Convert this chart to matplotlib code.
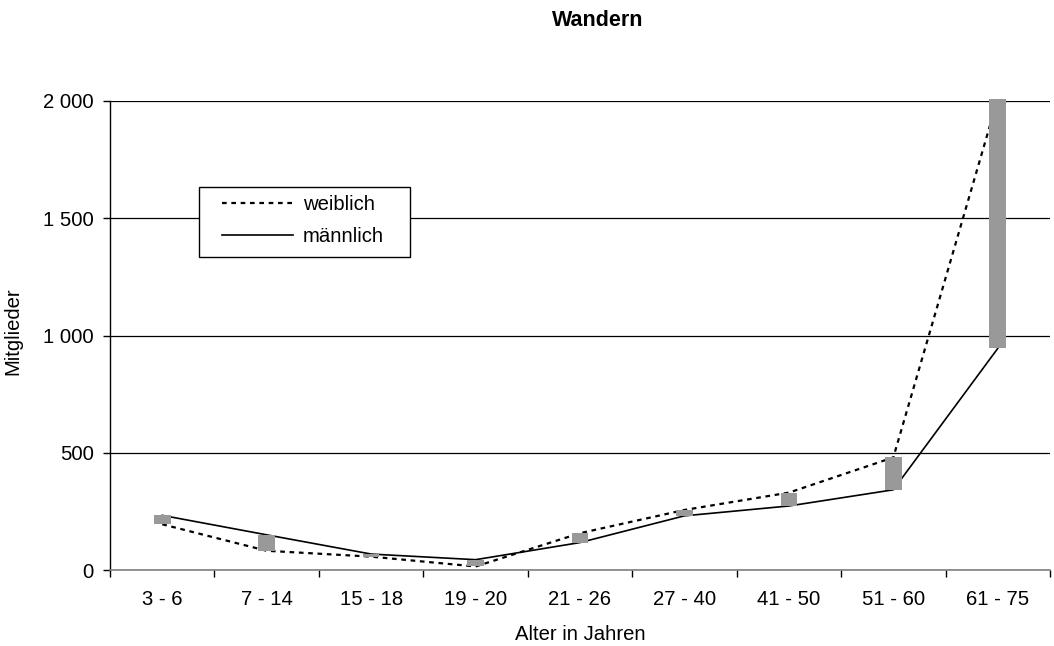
import matplotlib
matplotlib.use("Agg")
import matplotlib.pyplot as plt
from matplotlib.ticker import FuncFormatter, FixedLocator
from matplotlib.patches import Rectangle
import numpy as np

plt.rcParams['font.family'] = ['Liberation Sans', 'DejaVu Sans']

categories = ["3 - 6", "7 - 14", "15 - 18", "19 - 20", "21 - 26", "27 - 40", "41 - 50", "51 - 60", "61 - 75"]
weiblich = [195, 82, 57, 15, 157, 256, 330, 480, 2010]
maennlich = [233, 150, 68, 44, 117, 231, 273, 342, 945]
title = "Wandern"
xlabel = "Alter in Jahren"
ylabel = "Mitglieder"

FS = 14.6
W, H = 1054, 646

fig = plt.figure(figsize=(W/100, H/100), dpi=100)
ax = fig.add_axes([110/W, 1-570/H, 940/W, 469/H])

x = np.arange(len(categories))
ax.plot(x, weiblich, color='black', lw=1.6, linestyle=(0, (2.1, 2.1)), label='weiblich', zorder=3)
ax.plot(x, maennlich, color='black', lw=1.2, linestyle='-', label='männlich', zorder=3)

lo = np.minimum(weiblich, maennlich)
hi = np.maximum(weiblich, maennlich)
ax.bar(x, hi - lo, bottom=lo, width=0.16, color='#999999', zorder=4, clip_on=False)

ax.set_xlim(-0.5, len(categories) - 0.5)
ax.set_ylim(0, 2000)
ax.set_yticks([0, 500, 1000, 1500, 2000])
ax.yaxis.set_major_formatter(FuncFormatter(lambda v, p: f"{int(v):,}".replace(",", " ")))
ax.set_xticks(x)
ax.set_xticklabels(categories)
ax.xaxis.set_minor_locator(FixedLocator(np.arange(-0.5, len(categories), 1.0)))
ax.tick_params(axis='x', which='major', length=0, pad=14.5, labelsize=FS)
ax.tick_params(axis='x', which='minor', length=4.8, width=1, color='black', direction='out')
ax.tick_params(axis='y', length=4.8, width=1, direction='out', labelsize=FS, pad=7)

ax.grid(axis='y', color='black', lw=0.9, zorder=1)
ax.set_axisbelow(True)
for s in ['top', 'right']:
    ax.spines[s].set_visible(False)
ax.spines['left'].set_color('black')
ax.spines['bottom'].set_color('#808080')
ax.spines['left'].set_linewidth(1)
ax.spines['bottom'].set_linewidth(1.2)

# legend box
box = Rectangle((198.5/W, 1-257.5/H), 211.5/W, 70/H, transform=fig.transFigure,
                facecolor='white', edgecolor='black', lw=1, zorder=9)
ax.add_patch(box)
box.set_clip_on(False)
leg = ax.legend(loc='center left', bbox_to_anchor=(221.5/W, 1-220.5/H), bbox_transform=fig.transFigure,
                borderaxespad=0, borderpad=0, fontsize=FS, handlelength=3.55, handletextpad=0.45,
                labelspacing=0.65, frameon=False)
leg.set_zorder(10)

fig.text(598/W, 1-20/H, title, ha='center', va='center', fontsize=15.5, fontweight='bold')
fig.text(580/W, 1-635/H, xlabel, ha='center', va='center', fontsize=FS)
fig.text(13/W, 1-331/H, ylabel, ha='center', va='center', fontsize=FS, rotation=90)

fig.savefig('out.png', dpi=100)
